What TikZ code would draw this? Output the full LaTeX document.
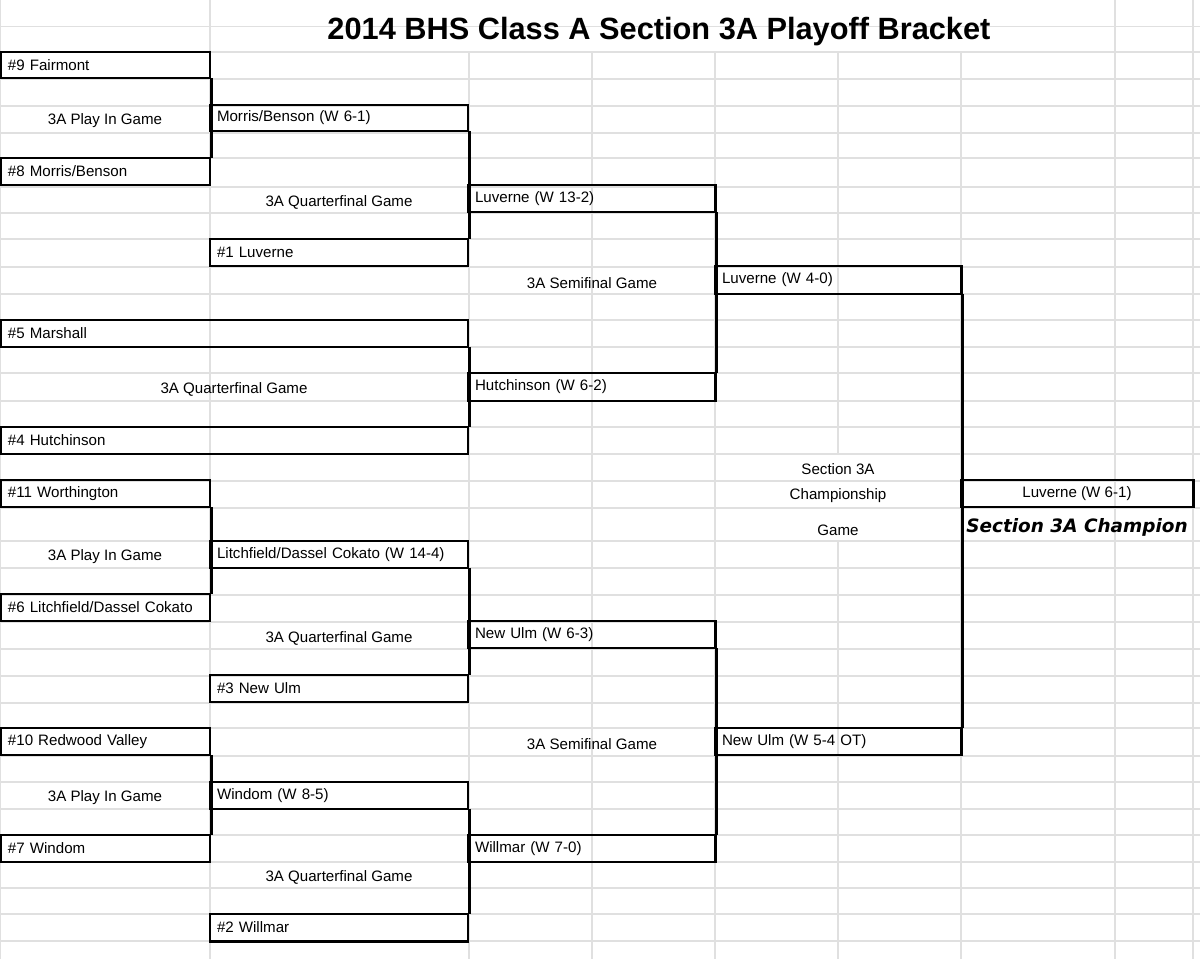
\documentclass[tikz,border=0pt]{standalone}
\usepackage{fontspec}
\setmainfont{Liberation Sans}
\newfontfamily\champfont{DejaVu Sans}
\begin{document}
\begin{tikzpicture}[x=0.02cm,y=-0.02cm,
  grid/.style={draw=black!12,line width=0.6pt},
  box/.style={draw,line width=1.7pt,rectangle,inner sep=0pt,font=\fontsize{8.6pt}{10pt}\selectfont},
  lbl/.style={font=\fontsize{8.6pt}{10pt}\selectfont,inner sep=0pt},
  con/.style={line width=1.7pt,line cap=rect}]
\useasboundingbox (0,0) rectangle (1200,959);
% grid
\foreach \y in {26.7,52,79,106,133,158,187,213,239,267,294,320,347,373,401,427,454,481,508,541,568,595,622,649,676,703,728,756,782,809,835,862,888,914,941}
  \draw[grid] (0,\y) -- (1200,\y);
\draw[grid] (210,0) -- (210,959);
\draw[grid] (1115,0) -- (1115,959);
\draw[grid] (1193,0) -- (1193,959);
\foreach \x in {469,592,715,961}
  \draw[grid] (\x,52) -- (\x,959);
\draw[grid] (838,52) -- (838,454);
\draw[grid] (838,541) -- (838,959);
\draw[grid] (0,0) -- (0,959);
% boxes: name, x1, y1, x2, y2, text
\newcommand\tbox[6]{\node[box,minimum width={(#4-#2)*0.02cm},minimum height={(#5-#3)*0.02cm},
  text width={(#4-#2-14)*0.02cm},align=left] (#1) at ({(#2+#4)/2},{(#3+#5)/2}) {#6};}
\tbox{t9}{1}{52}{210}{78}{\#9 Fairmont}
\tbox{t8}{1}{158}{210}{185}{\#8 Morris/Benson}
\tbox{w98}{210}{105}{468}{131}{Morris/Benson (W 6-1)}
\tbox{t1}{210}{239}{468}{266}{\#1 Luverne}
\tbox{q1}{468}{185}{715}{212}{Luverne (W 13-2)}
\tbox{t5}{1}{320}{468}{347}{\#5 Marshall}
\tbox{t4}{1}{427}{468}{454}{\#4 Hutchinson}
\tbox{q2}{468}{373}{715}{401}{Hutchinson (W 6-2)}
\tbox{s1}{715}{266}{961}{294}{Luverne (W 4-0)}
\tbox{t11}{1}{480}{210}{507}{\#11 Worthington}
\tbox{t6}{1}{594}{210}{621}{\#6 Litchfield/Dassel Cokato}
\tbox{w116}{210}{541}{468}{568}{Litchfield/Dassel Cokato (W 14-4)}
\tbox{t3}{210}{675}{468}{702}{\#3 New Ulm}
\tbox{q3}{468}{621}{715}{648}{New Ulm (W 6-3)}
\tbox{t10}{1}{728}{210}{755}{\#10 Redwood Valley}
\tbox{t7}{1}{835}{210}{862}{\#7 Windom}
\tbox{w107}{210}{782}{468}{809}{Windom (W 8-5)}
\tbox{t2}{210}{914}{468}{941}{\#2 Willmar}
\tbox{q4}{468}{835}{715}{862}{Willmar (W 7-0)}
\tbox{s2}{715}{728}{961}{755}{New Ulm (W 5-4 OT)}
\node[box,minimum width={232*0.02cm},minimum height={27*0.02cm},align=center] (champ) at (1077,493.5) {Luverne (W 6-1)};
% connectors
\draw[con] (t9.south east) -- (t8.north east);
\draw[con] (w98.south east) -- (t1.north east);
\draw[con] (t5.south east) -- (t4.north east);
\draw[con] (q1.south east) -- (q2.north east);
\draw[con] (s1.south east) -- (s2.north east);
\draw[con] (t11.south east) -- (t6.north east);
\draw[con] (w116.south east) -- (t3.north east);
\draw[con] (q3.south east) -- (q4.north east);
\draw[con] (t10.south east) -- (t7.north east);
\draw[con] (w107.south east) -- (t2.north east);
% labels
\node[font=\fontsize{17.5pt}{20pt}\selectfont\bfseries,inner sep=0pt] (title) at (659,32) {2014 BHS Class A Section 3A Playoff Bracket};
\node[lbl] (l1) at (105,121) {3A Play In Game};
\node[lbl] (l2) at (105,557) {3A Play In Game};
\node[lbl] (l3) at (105,798) {3A Play In Game};
\node[lbl] (l4) at (339,202) {3A Quarterfinal Game};
\node[lbl] (l5) at (234,389) {3A Quarterfinal Game};
\node[lbl] (l6) at (339,638) {3A Quarterfinal Game};
\node[lbl] (l7) at (339,877) {3A Quarterfinal Game};
\node[lbl] (l8) at (592,283) {3A Semifinal Game};
\node[lbl] (l9) at (592,744) {3A Semifinal Game};
\node[lbl] (l10) at (838,469) {Section 3A};
\node[lbl] (l11) at (838,496) {Championship};
\node[lbl] (l12) at (838,530) {Game};
\node[font=\champfont\fontsize{10.5pt}{12pt}\selectfont\bfseries\itshape,inner sep=0pt,anchor=west] (l13) at (966,527) {Section 3A Champion};
\end{tikzpicture}
\end{document}
